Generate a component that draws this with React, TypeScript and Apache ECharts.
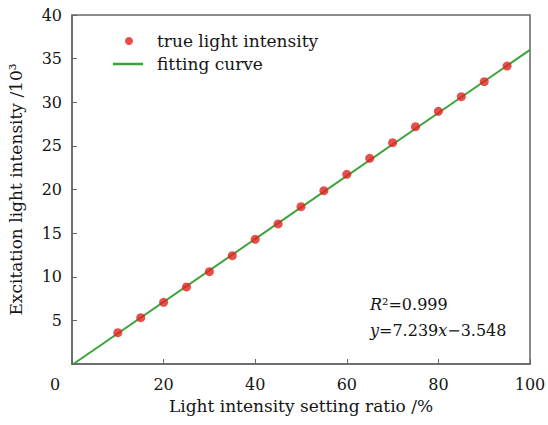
import React, { useEffect, useRef } from "react";
import * as echarts from "echarts";

const ratioX = [10, 15, 20, 25, 30, 35, 40, 45, 50, 55, 60, 65, 70, 75, 80, 85, 90, 95];
const trueIntensity = [3.59, 5.31, 7.07, 8.83, 10.58, 12.42, 14.29, 16.05, 18.03, 19.87, 21.74, 23.57, 25.37, 27.2, 28.96, 30.64, 32.36, 34.15];
const fitX = [0.3, 100];
const fitY = [0, 36];
const xTicks = [0, 20, 40, 60, 80, 100];

const FONT = "DejaVu Serif";
const TXT = "#151515";

export default function App() {
  const ref = useRef<HTMLDivElement>(null);
  useEffect(() => {
    if (!ref.current) return;
    const chart = echarts.init(ref.current, undefined, { renderer: "svg" });
    chart.setOption({
      animation: false,
      backgroundColor: "#fff",
      textStyle: { fontFamily: FONT },
      grid: {
        left: 72,
        top: 15,
        right: 18,
        bottom: 61,
        containLabel: false,
        outerBoundsMode: "none",
        show: true,
        borderColor: "#666",
        borderWidth: 1.5,
        backgroundColor: "transparent",
      },
      legend: [
        {
          left: 125,
          top: 31,
          padding: 0,
          itemWidth: 8,
          itemHeight: 8,
          icon: "circle",
          textStyle: { fontFamily: FONT, fontSize: 17, color: TXT, lineHeight: 20, padding: [0, 0, 0, 19] },
          data: ["true light intensity"],
        },
        {
          left: 113,
          top: 54,
          padding: 0,
          itemWidth: 30,
          itemHeight: 2.5,
          icon: "path://M0,0 L30,0 L30,2.5 L0,2.5 Z",
          textStyle: { fontFamily: FONT, fontSize: 17, color: TXT, lineHeight: 20, padding: [0, 0, 0, 9] },
          data: ["fitting curve"],
        },
      ],
      xAxis: {
        type: "value",
        min: 0,
        max: 100,
        interval: 20,
        name: "Light intensity setting ratio /%",
        nameLocation: "middle",
        nameGap: 33,
        nameTextStyle: { fontFamily: FONT, fontSize: 17, color: TXT },
        axisLine: { lineStyle: { color: "#666", width: 1.5 } },
        axisTick: { inside: true, length: 5, lineStyle: { color: "#666" } },
        splitLine: { show: false },
        axisLabel: {
          fontFamily: FONT,
          fontSize: 16,
          color: TXT,
          margin: 12,
          formatter: (v: number) => (v === 0 ? "" : String(v)),
        },
      },
      yAxis: {
        type: "value",
        min: 0,
        max: 40,
        interval: 5,
        name: "Excitation light intensity /10³",
        nameLocation: "middle",
        nameGap: 48,
        nameTextStyle: { fontFamily: FONT, fontSize: 17, color: TXT },
        axisLine: { lineStyle: { color: "#666", width: 1.5 } },
        axisTick: { inside: true, length: 5, lineStyle: { color: "#666" } },
        splitLine: { show: false },
        axisLabel: {
          fontFamily: FONT,
          fontSize: 16,
          color: TXT,
          margin: 10,
          formatter: (v: number) => (v === 0 ? "" : String(v)),
        },
      },
      graphic: [
        { type: "text", left: 50, top: 376, style: { text: String(xTicks[0]), font: `16px "${FONT}"`, fill: TXT } },
        {
          type: "text",
          left: 370,
          top: 291,
          style: {
            text: "{i|R}²=0.999\n{i|y}=7.239{i|x}−3.548",
            font: `16px "${FONT}"`,
            fill: TXT,
            lineHeight: 26,
            rich: { i: { fontStyle: "italic", fontFamily: FONT, fontSize: 16, fill: TXT, lineHeight: 26 } },
          },
        },
      ],
      series: [
        {
          name: "fitting curve",
          type: "line",
          data: fitX.map((x, i) => [x, fitY[i]]),
          showSymbol: false,
          symbol: "none",
          lineStyle: { color: "#3aa43a", width: 2 },
          itemStyle: { color: "#3aa43a" },
          z: 2,
        },
        {
          name: "true light intensity",
          type: "scatter",
          data: ratioX.map((x, i) => [x, trueIntensity[i]]),
          symbolSize: 9,
          itemStyle: { color: "#e3201f" },
          z: 3,
        },
      ],
    });
    return () => chart.dispose();
  }, []);
  return <div ref={ref} style={{ position: "absolute", left: 0, top: 0, width: 548, height: 425 }} />;
}
